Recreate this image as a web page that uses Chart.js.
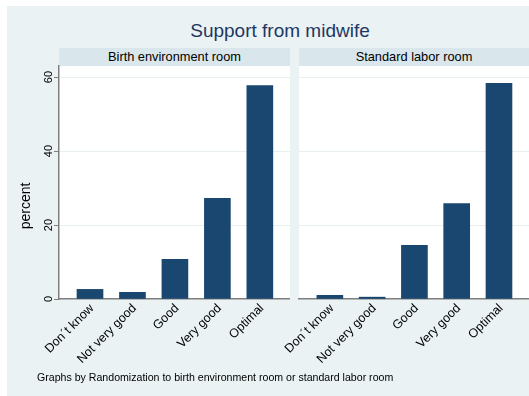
<!DOCTYPE html>
<html>
<head>
<meta charset="utf-8">
<title>Support from midwife</title>
<script src="https://cdn.jsdelivr.net/npm/chart.js@4.4.1/dist/chart.umd.min.js"></script>
<style>
  body { margin: 0; background: #fff; font-family: "Liberation Sans", Arial, sans-serif; }
  #graph { position: relative; width: 529px; height: 396px; overflow: hidden; }
  #region { position: absolute; left: 7px; top: 6px; right: 0; bottom: 0; background: #eaf2f3; }
  #title { position: absolute; left: 130px; width: 300px; top: 21px; line-height: 19px;
           font-size: 19px; text-align: center; color: #1e3763; }
  .strip { position: absolute; top: 48px; height: 18px; line-height: 18px; background: #d9e6eb;
           font-size: 12.8px; text-align: center; color: #000; }
  #note { position: absolute; left: 37px; top: 372px; line-height: 11px; font-size: 10.6px; color: #000; white-space: nowrap; }
  canvas { position: absolute; top: 0; }
</style>
</head>
<body>
<div id="graph">
  <div id="region"></div>
  <div id="title">Support from midwife</div>
  <div class="strip" style="left:59px; width:231px;">Birth environment room</div>
  <div class="strip" style="left:299px; width:230px;">Standard labor room</div>
  <canvas id="left" width="290" height="396" style="left:0;"></canvas>
  <canvas id="right" width="250" height="396" style="left:279px;"></canvas>
  <div id="note">Graphs by Randomization to birth environment room or standard labor room</div>
</div>
<script>
const categories = ['Don\u00b4t know', 'Not very good', 'Good', 'Very good', 'Optimal'];
const birthRoom = [2.6, 1.8, 10.7, 27.2, 57.7];
const standardRoom = [1.0, 0.5, 14.5, 25.8, 58.3];
const yTicks = [0, 20, 40, 60];

const FONT = 'Liberation Sans, Arial, sans-serif';
const AXIS_GREY = '#7f7f7f';

// white plot region behind the bars
const panelBackground = {
  id: 'panelBackground',
  beforeDraw(chart) {
    const { ctx, chartArea: a } = chart;
    ctx.save();
    ctx.fillStyle = '#ffffff';
    ctx.fillRect(a.left, a.top, a.right - a.left, a.bottom - a.top);
    ctx.restore();
  }
};

// vertical tick labels and axis title (Chart.js won't rotate y ticks)
const yAxisLabels = {
  id: 'yAxisLabels',
  afterDraw(chart) {
    const { ctx } = chart;
    const y = chart.scales.y;
    ctx.save();
    ctx.fillStyle = '#000';
    ctx.textAlign = 'center';
    ctx.textBaseline = 'middle';
    ctx.font = '11px ' + FONT;
    yTicks.forEach(v => {
      ctx.save();
      ctx.translate(49, y.getPixelForValue(v));
      ctx.rotate(-Math.PI / 2);
      ctx.fillText(String(v), 0, 0);
      ctx.restore();
    });
    ctx.font = '14px ' + FONT;
    ctx.translate(26, 206);
    ctx.rotate(-Math.PI / 2);
    ctx.fillText('percent', 0, 0);
    ctx.restore();
  }
};

function makePanel(id, values, withAxis) {
  return new Chart(document.getElementById(id), {
    type: 'bar',
    data: {
      datasets: [{
        data: values.map((v, i) => ({ x: i + 1, y: v })),
        backgroundColor: '#1a476f',
        barThickness: 26
      }]
    },
    options: {
      responsive: false,
      animation: false,
      events: [],
      layout: { padding: { top: 66, left: withAxis ? 0 : 20, right: 0, bottom: 0 } },
      plugins: { legend: { display: false }, tooltip: { enabled: false } },
      scales: {
        x: {
          type: 'linear',
          min: 0.27,
          max: 5.71,
          offset: false,
          z: 1,
          afterBuildTicks: s => { s.ticks = categories.map((c, i) => ({ value: i + 1 })); },
          afterFit: s => { s.height = 97; },
          grid: { display: false, drawTicks: false },
          border: { display: true, color: AXIS_GREY, width: 1.5 },
          ticks: {
            callback: v => categories[v - 1],
            minRotation: 45,
            maxRotation: 45,
            autoSkip: false,
            padding: 2,
            labelOffset: 2,
            color: '#000',
            font: { family: FONT, size: 12.5 }
          }
        },
        y: {
          min: 0,
          max: 63,
          afterBuildTicks: s => { s.ticks = yTicks.map(v => ({ value: v })); },
          afterFit: s => { s.width = withAxis ? 59 : 0; },
          grid: { color: '#e8eff1', lineWidth: 1, drawTicks: withAxis, tickLength: 5, tickColor: AXIS_GREY },
          border: { display: withAxis, color: AXIS_GREY, width: 1.5 },
          ticks: { display: false }
        }
      }
    },
    plugins: withAxis ? [panelBackground, yAxisLabels] : [panelBackground]
  });
}

makePanel('left', birthRoom, true);
makePanel('right', standardRoom, false);
</script>
</body>
</html>
